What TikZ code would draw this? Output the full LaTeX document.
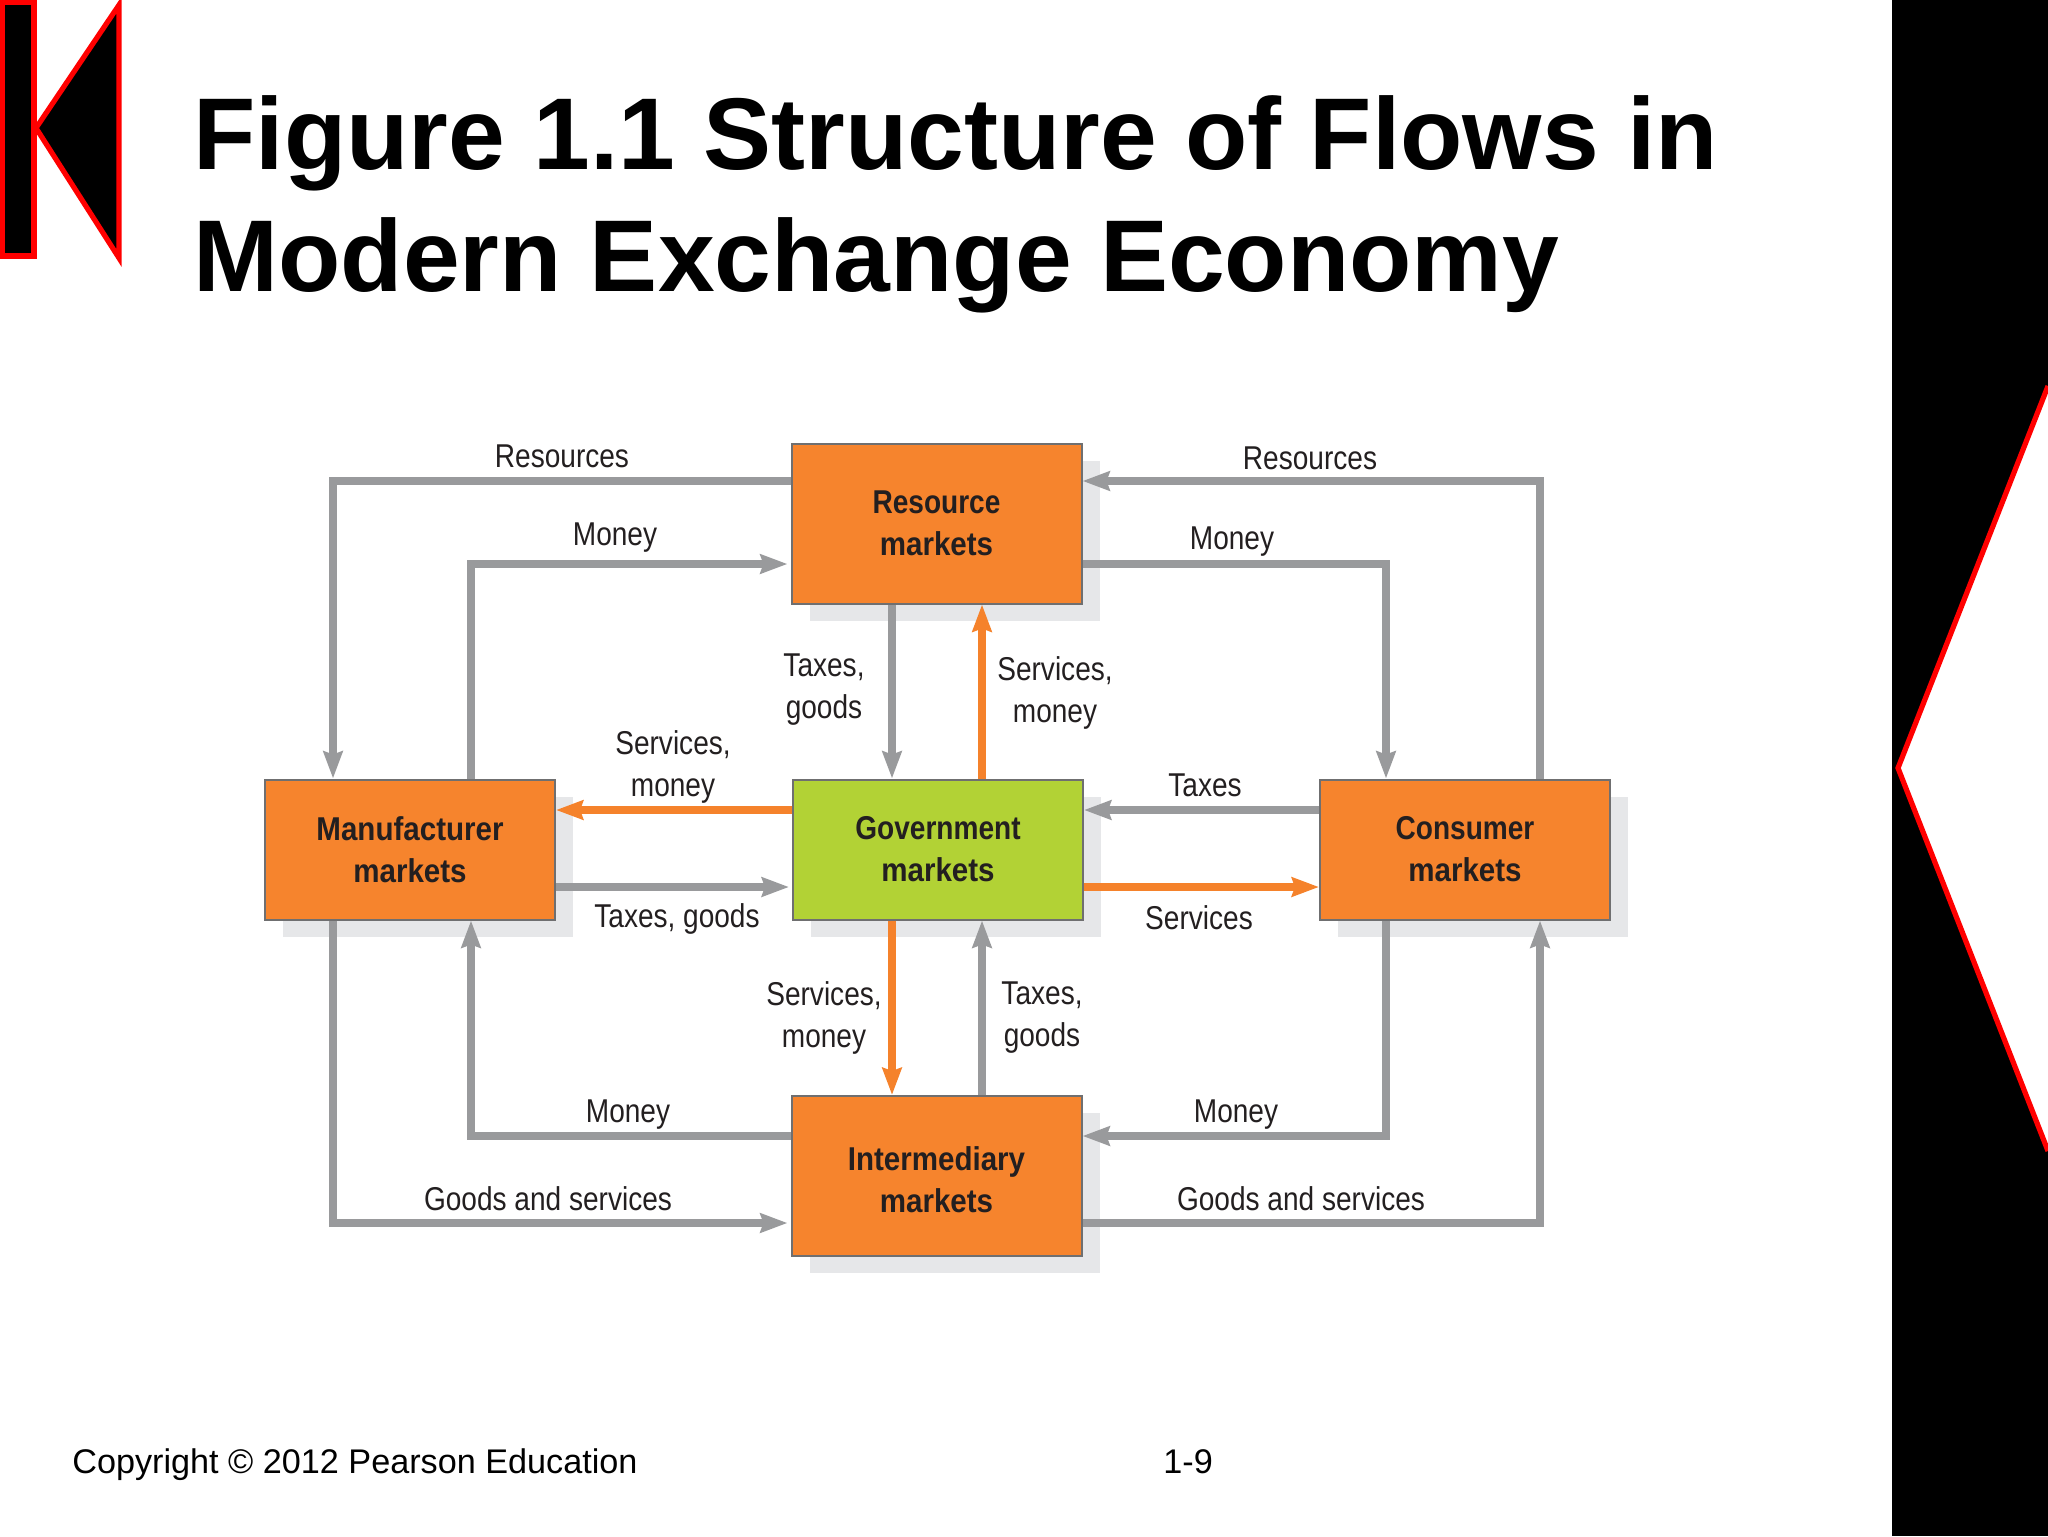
\documentclass[tikz,border=0pt]{standalone}
\usepackage{fontspec}
\setmainfont{Liberation Sans}
\newfontfamily\narrowsans[FakeStretch=0.85]{Liberation Sans}
\newfontfamily\widernarrow[FakeStretch=0.895]{Liberation Sans}
\usetikzlibrary{arrows.meta,shadows}
\definecolor{flowgray}{HTML}{999A9C}
\definecolor{floworange}{HTML}{F5822B}
\definecolor{boxorange}{HTML}{F6842D}
\definecolor{boxgreen}{HTML}{B2D235}
\definecolor{boxedge}{HTML}{6F6F70}
\definecolor{shadegray}{HTML}{E6E7E9}
\definecolor{inkdark}{HTML}{231F20}
\tikzset{
  market/.style={draw=boxedge,line width=1pt,fill=boxorange,minimum width=145pt,minimum height=#1,inner sep=0pt,
    align=center,text=inkdark,font=\narrowsans\bfseries\fontsize{16.5}{21}\selectfont,
    drop shadow={shadow xshift=9pt,shadow yshift=-8.5pt,fill=shadegray,opacity=1}},
  market/.default=70pt,
  flowlabel/.style={align=center,inner sep=0pt,text=inkdark,font=\narrowsans\fontsize{16.5}{21}\selectfont},
  flow/.style={line width=3.6pt,flowgray,-{Stealth[length=13.5pt,width=9.5pt,inset=1.5pt]}},
  oflow/.style={flow,floworange},
  gap/.style={shorten >=1.5pt},
  title/.style={anchor=base west,inner sep=0pt,font=\bfseries\fontsize{51}{60}\selectfont},
  footer/.style={anchor=base west,inner sep=0pt,font=\fontsize{17.1}{21}\selectfont},
  deco/.style={draw=red,line width=2.6pt,fill=black}
}
\newcommand{\lowerline}[1]{\raisebox{-2pt}[\height][\depth]{#1}}
\begin{document}
\begin{tikzpicture}[x=0.5pt,y=-0.5pt]
\useasboundingbox (0,0) rectangle (2048,1536);
\fill[white] (0,0) rectangle (2048,1536);
% decoration
\fill[black] (1892,0) rectangle (2048,1536);
\draw[draw=red,line width=2.6pt,fill=white,miter limit=20] (2048,386) -- (1898,768) -- (2048,1151);
\draw[deco] (2.5,2.5) rectangle (34,256);
\draw[deco,miter limit=20] (36,128) -- (119,5) -- (119,258) -- cycle;
% title and footer
\node[title] (t1) at (193,169) {Figure 1.1 Structure of Flows in};
\node[title] (t2) at (193,291) {Modern Exchange Economy};
\node[footer] (f1) at (72,1473) {Copyright © 2012 Pearson Education};
\node[footer] (f2) at (1163,1473) {1-9};
% markets
\node[market=80pt] (res) at (936.5,523.5) {Resource\\{\widernarrow markets}};
\node[market] (man) at (410,849.5) {{\widernarrow Manufacturer}\\{\widernarrow markets}};
\node[market,fill=boxgreen] (gov) at (938,849.5) {Government\\{\widernarrow markets}};
\node[market] (con) at (1465,849.5) {Consumer\\{\widernarrow markets}};
\node[market=80pt] (imd) at (936.5,1176) {\lowerline{\widernarrow Intermediary}\\\lowerline{\widernarrow markets}};
% routing levels
\coordinate (xA) at (333,0);
\coordinate (xB) at (471,0);
\coordinate (xC) at (892,0);
\coordinate (xD) at (982,0);
\coordinate (xE) at (1386,0);
\coordinate (xF) at (1540,0);
\coordinate (yA) at (0,481);
\coordinate (yB) at (0,564);
\coordinate (yC) at (0,810);
\coordinate (yD) at (0,887);
\coordinate (yE) at (0,1136);
\coordinate (yF) at (0,1223);
% flows
\draw[flow] (res.west |- yA) -| (man.north -| xA);
\draw[flow,gap] (man.north -| xB) |- (res.west |- yB);
\draw[flow] (con.north -| xF) |- (res.east |- yA);
\draw[flow] (res.east |- yB) -| (con.north -| xE);
\draw[flow] (res.south -| xC) -- (gov.north -| xC);
\draw[oflow] (gov.north -| xD) -- (res.south -| xD);
\draw[oflow] (gov.west |- yC) -- (man.east |- yC);
\draw[flow,gap] (man.east |- yD) -- (gov.west |- yD);
\draw[flow] (con.west |- yC) -- (gov.east |- yC);
\draw[oflow] (gov.east |- yD) -- (con.west |- yD);
\draw[oflow] (gov.south -| xC) -- (imd.north -| xC);
\draw[flow] (imd.north -| xD) -- (gov.south -| xD);
\draw[flow] (imd.west |- yE) -| (man.south -| xB);
\draw[flow,gap] (man.south -| xA) |- (imd.west |- yF);
\draw[flow] (con.south -| xE) |- (imd.east |- yE);
\draw[flow] (imd.east |- yF) -| (con.south -| xF);
% labels
\node[flowlabel] (l1) at (562,456) {Resources};
\node[flowlabel] (l2) at (615,538) {Money};
\node[flowlabel] (l3) at (1310,458) {Resources};
\node[flowlabel] (l4) at (1232,542) {Money};
\node[flowlabel] (l5) at (824,690) {Taxes,\\goods};
\node[flowlabel] (l6) at (1055,693) {Services,\\money};
\node[flowlabel] (l7) at (673,767) {Services,\\money};
\node[flowlabel] (l8) at (1205,785) {Taxes};
\node[flowlabel] (l9) at (677,919) {Taxes, goods};
\node[flowlabel] (l10) at (1199,918) {Services};
\node[flowlabel] (l11) at (824,1018) {Services,\\money};
\node[flowlabel] (l12) at (1042,1018) {Taxes,\\goods};
\node[flowlabel] (l13) at (628,1115) {Money};
\node[flowlabel] (l14) at (1236,1115) {Money};
\node[flowlabel] (l15) at (548,1199) {Goods and services};
\node[flowlabel] (l16) at (1301,1199) {Goods and services};
\end{tikzpicture}
\end{document}
